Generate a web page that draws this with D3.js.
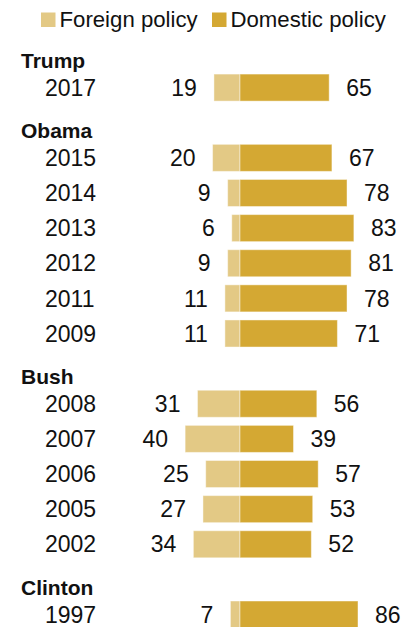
<!DOCTYPE html>
<html>
<head>
<meta charset="utf-8">
<script src="https://cdn.jsdelivr.net/npm/d3@7"></script>
<style>
  html, body { margin: 0; padding: 0; background: #fff; }
  svg { display: block; }
  text { font-family: "Liberation Sans", Arial, sans-serif; fill: #111; }
</style>
</head>
<body>
<script>
// Share of people naming foreign vs. domestic policy, by president and year
const presidents = ["Trump", "Obama", "Bush", "Clinton"];
const years = [
  ["2017"],
  ["2015", "2014", "2013", "2012", "2011", "2009"],
  ["2008", "2007", "2006", "2005", "2002"],
  ["1997"]
];
const foreignPolicy = [
  [19],
  [20, 9, 6, 9, 11, 11],
  [31, 40, 25, 27, 34],
  [7]
];
const domesticPolicy = [
  [65],
  [67, 78, 83, 81, 78, 71],
  [56, 39, 57, 53, 52],
  [86]
];
const seriesNames = ["Foreign policy", "Domestic policy"];
const seriesColors = ["#e3c985", "#d4a833"];

const W = 406, H = 627;
const svg = d3.select("body").append("svg").attr("width", W).attr("height", H);

// Flatten into a list of slots: a header slot per president, then one slot per year
const slots = [];
presidents.forEach((p, gi) => {
  slots.push({ type: "header", label: p });
  years[gi].forEach((yr, i) => {
    slots.push({ type: "row", label: yr, foreign: foreignPolicy[gi][i], domestic: domesticPolicy[gi][i] });
  });
});

const y = d3.scaleBand()
  .domain(d3.range(slots.length))
  .range([34.9, 632.1])
  .paddingInner(0.23)
  .paddingOuter(0.115);

const centerX = 240;
const w = d3.scaleLinear().domain([0, 100]).range([0, 137.2]);

// Legend
const legend = svg.append("g");
const legendX = [41, 212];
seriesNames.forEach((name, i) => {
  const g = legend.append("g").attr("transform", `translate(${legendX[i]},0)`);
  g.append("rect").attr("x", 0).attr("y", 12.5).attr("width", 14.5).attr("height", 14.5)
    .attr("fill", seriesColors[i]);
  g.append("text").attr("x", 18.5).attr("y", 27)
    .style("font-size", "22.2px").text(name);
});

const rows = slots.map((d, i) => ({ ...d, i })).filter(d => d.type === "row");
const headers = slots.map((d, i) => ({ ...d, i })).filter(d => d.type === "header");

// Group headings
svg.selectAll("text.header").data(headers).join("text")
  .attr("class", "header")
  .attr("x", 21)
  .attr("y", d => y(d.i) + y.bandwidth() / 2 + 15.6)
  .style("font-size", "21px").style("font-weight", "bold")
  .attr("fill", "#000")
  .text(d => d.label);

// Year labels
svg.selectAll("text.year").data(rows).join("text")
  .attr("class", "year")
  .attr("x", 45)
  .attr("y", d => y(d.i) + y.bandwidth() / 2 + 8.2)
  .style("font-size", "23px")
  .text(d => d.label);

// Foreign policy bars extend left from the center line
svg.selectAll("rect.foreign").data(rows).join("rect")
  .attr("class", "foreign")
  .attr("x", d => centerX - w(d.foreign))
  .attr("y", d => y(d.i))
  .attr("width", d => w(d.foreign))
  .attr("height", y.bandwidth())
  .attr("fill", seriesColors[0])
  .attr("stroke", "rgba(255,255,255,0.45)").attr("stroke-width", 1);

// Domestic policy bars extend right from the center line
svg.selectAll("rect.domestic").data(rows).join("rect")
  .attr("class", "domestic")
  .attr("x", centerX)
  .attr("y", d => y(d.i))
  .attr("width", d => w(d.domestic))
  .attr("height", y.bandwidth())
  .attr("fill", seriesColors[1])
  .attr("stroke", "rgba(255,255,255,0.45)").attr("stroke-width", 1);

// Value labels
svg.selectAll("text.fval").data(rows).join("text")
  .attr("class", "fval")
  .attr("x", d => centerX - w(d.foreign) - 17)
  .attr("y", d => y(d.i) + y.bandwidth() / 2 + 8.2)
  .attr("text-anchor", "end")
  .style("font-size", "23px")
  .text(d => d.foreign);

svg.selectAll("text.dval").data(rows).join("text")
  .attr("class", "dval")
  .attr("x", d => centerX + w(d.domestic) + 17)
  .attr("y", d => y(d.i) + y.bandwidth() / 2 + 8.2)
  .attr("text-anchor", "start")
  .style("font-size", "23px")
  .text(d => d.domestic);
</script>
</body>
</html>
